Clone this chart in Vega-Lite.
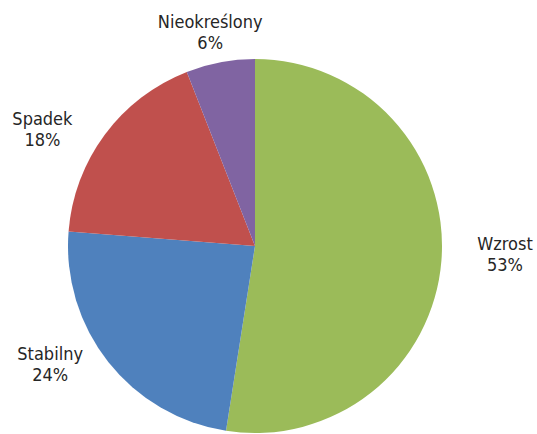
{
  "$schema": "https://vega.github.io/schema/vega-lite/v6.json",
  "width": 510,
  "height": 376,
  "autosize": {"type": "none"},
  "padding": {"left": 0, "top": 58, "right": 27, "bottom": 0},
  "background": "white",
  "view": {"stroke": null},
  "config": {
    "text": {
      "font": "DejaVu Sans Condensed, sans-serif",
      "fontSize": 18,
      "lineHeight": 21,
      "lineBreak": "\n",
      "align": "center",
      "baseline": "middle",
      "color": "#262626"
    }
  },
  "data": {
    "values": [
      {"kategoria": "Wzrost", "udzial": 53, "nr": 1},
      {"kategoria": "Stabilny", "udzial": 24, "nr": 2},
      {"kategoria": "Spadek", "udzial": 18, "nr": 3},
      {"kategoria": "Nieokreślony", "udzial": 6, "nr": 4}
    ]
  },
  "transform": [
    {"stack": "udzial", "groupby": [], "sort": [{"field": "nr"}], "offset": "normalize", "as": ["start", "end"]},
    {"calculate": "(datum.start + datum.end) / 2", "as": "srodek"},
    {"calculate": "datum.kategoria + '\\n' + datum.udzial + '%'", "as": "etykieta"}
  ],
  "layer": [
    {
      "mark": {"type": "arc", "radius": 187},
      "encoding": {
        "theta": {"field": "start", "type": "quantitative", "scale": {"domain": [0, 1]}},
        "theta2": {"field": "end"},
        "color": {
          "field": "kategoria",
          "type": "nominal",
          "scale": {
            "domain": ["Wzrost", "Stabilny", "Spadek", "Nieokreślony"],
            "range": ["#9BBB59", "#4F81BD", "#C0504D", "#8064A2"]
          },
          "legend": null
        }
      }
    },
    {
      "transform": [{"filter": "datum.kategoria == 'Wzrost'"}],
      "mark": {"type": "text", "radius": 250, "thetaOffset": -0.081},
      "encoding": {
        "theta": {"field": "srodek", "type": "quantitative"},
        "text": {"field": "etykieta"}
      }
    },
    {
      "transform": [{"filter": "datum.kategoria == 'Stabilny'"}],
      "mark": {"type": "text", "radius": 232, "thetaOffset": 0.18},
      "encoding": {
        "theta": {"field": "srodek", "type": "quantitative"},
        "text": {"field": "etykieta"}
      }
    },
    {
      "transform": [{"filter": "datum.kategoria == 'Spadek'"}],
      "mark": {"type": "text", "radius": 247, "thetaOffset": -0.1035},
      "encoding": {
        "theta": {"field": "srodek", "type": "quantitative"},
        "text": {"field": "etykieta"}
      }
    },
    {
      "transform": [{"filter": "datum.kategoria == 'Nieokreślony'"}],
      "mark": {"type": "text", "radius": 227, "thetaOffset": -0.012},
      "encoding": {
        "theta": {"field": "srodek", "type": "quantitative"},
        "text": {"field": "etykieta"}
      }
    }
  ]
}
